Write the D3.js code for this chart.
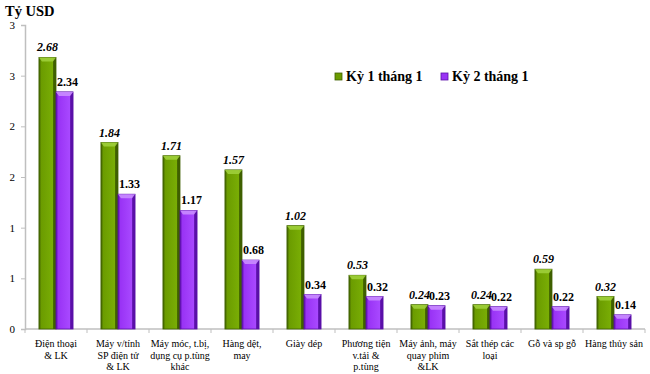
<!DOCTYPE html>
<html>
<head>
<meta charset="utf-8">
<script src="https://cdn.jsdelivr.net/npm/d3@7"></script>
<style>
body { margin: 0; background: #fff; }
svg text { font-family: "Liberation Serif", "Times New Roman", "DejaVu Serif", serif; }
</style>
</head>
<body>
<div id="chart"></div>
<script>
var categories = [
    ["Điện thoại", "& LK"],
    ["Máy v/tính", "SP điện tử", "& LK"],
    ["Máy móc, t.bị,", "dụng cụ p.tùng", "khác"],
    ["Hàng dệt,", "may"],
    ["Giày dép"],
    ["Phương tiện", "v.tải &", "p.tùng"],
    ["Máy ảnh, máy", "quay phim", "&LK"],
    ["Sắt thép các", "loại"],
    ["Gỗ và sp gỗ"],
    ["Hàng thủy sản"]
];
var ky1 = [2.68, 1.84, 1.71, 1.57, 1.02, 0.53, 0.24, 0.24, 0.59, 0.32];
var ky2 = [2.34, 1.33, 1.17, 0.68, 0.34, 0.32, 0.23, 0.22, 0.22, 0.14];
var seriesNames = ["Kỳ 1 tháng 1", "Kỳ 2 tháng 1"];
var yTickValues = [0, 0.5, 1, 1.5, 2, 2.5, 3];
var yTickLabels = ["0", "1", "1", "2", "2", "3", "3"];

var width = 650, height = 374;
var plotLeft = 25, plotRight = 645, plotTop = 25, plotBottom = 329;

var svg = d3.select("#chart").append("svg")
    .attr("width", width)
    .attr("height", height);

var defs = svg.append("defs");
var colors = [
    {id: "g1", dark: "#3f5f00", mid: "#6b9c00", light: "#79ad05"},
    {id: "g2", dark: "#5a10a8", mid: "#9933f5", light: "#a848ff"}
];
colors.forEach(function (c) {
    var g = defs.append("linearGradient").attr("id", c.id)
        .attr("x1", "0%").attr("x2", "100%").attr("y1", "0%").attr("y2", "0%");
    g.append("stop").attr("offset", "0%").attr("stop-color", c.dark);
    g.append("stop").attr("offset", "14%").attr("stop-color", c.mid);
    g.append("stop").attr("offset", "80%").attr("stop-color", c.light);
    g.append("stop").attr("offset", "86%").attr("stop-color", c.dark);
    g.append("stop").attr("offset", "100%").attr("stop-color", c.dark);
});

var x0 = d3.scaleBand()
    .domain(d3.range(categories.length))
    .range([plotLeft, plotRight])
    .paddingInner(0)
    .paddingOuter(0);

var x1 = d3.scaleBand()
    .domain([0, 1])
    .range([x0.bandwidth() * 0.225, x0.bandwidth() * 0.775]);

var y = d3.scaleLinear()
    .domain([0, 3])
    .range([plotBottom, plotTop]);

// y axis
var yAxis = svg.append("g")
    .attr("transform", "translate(" + plotLeft + ",0)")
    .call(d3.axisLeft(y).tickValues(yTickValues)
        .tickFormat(function (d, i) { return yTickLabels[i]; })
        .tickSize(4).tickPadding(6));
yAxis.select(".domain").attr("stroke", "#bfbfbf").attr("stroke-width", 1.5);
yAxis.selectAll(".tick line").attr("stroke", "#bfbfbf");
yAxis.selectAll("text").style("font-size", "11px").attr("fill", "#000");

// x axis
var xAxis = svg.append("g")
    .attr("transform", "translate(0," + plotBottom + ")");
xAxis.append("line")
    .attr("x1", plotLeft).attr("x2", plotRight)
    .attr("stroke", "#bfbfbf").attr("stroke-width", 1.5);
xAxis.selectAll(".xt")
    .data(d3.range(categories.length + 1))
    .enter().append("line")
    .attr("class", "xt")
    .attr("x1", function (d) { return plotLeft + d * x0.bandwidth(); })
    .attr("x2", function (d) { return plotLeft + d * x0.bandwidth(); })
    .attr("y1", 0).attr("y2", 4)
    .attr("stroke", "#bfbfbf");

var labels = xAxis.selectAll(".xl")
    .data(categories)
    .enter().append("text")
    .attr("class", "xl")
    .attr("text-anchor", "middle")
    .style("font-size", "10px")
    .attr("transform", function (d, i) {
        return "translate(" + (x0(i) + x0.bandwidth() / 2) + ",18)";
    });
labels.selectAll("tspan")
    .data(function (d) { return d; })
    .enter().append("tspan")
    .attr("x", 0)
    .attr("dy", function (d, i) { return i === 0 ? 0 : 11.5; })
    .text(function (d) { return d; });

// bars
var series = [ky1, ky2];
var groups = svg.selectAll(".grp")
    .data(categories)
    .enter().append("g")
    .attr("class", "grp")
    .attr("transform", function (d, i) { return "translate(" + x0(i) + ",0)"; });

series.forEach(function (vals, s) {
    var c = colors[s];
    groups.append("rect")
        .attr("x", x1(s))
        .attr("y", function (d, i) { return y(vals[i]); })
        .attr("width", x1.bandwidth())
        .attr("height", function (d, i) { return plotBottom - y(vals[i]); })
        .attr("fill", "url(#" + c.id + ")")
        .attr("stroke", c.dark)
        .attr("stroke-width", 0.8);
    // top bevel
    groups.append("path")
        .attr("d", function (d, i) {
            var xa = x1(s), w = x1.bandwidth(), ya = y(vals[i]);
            return "M" + xa + "," + ya + "L" + (xa + w) + "," + ya +
                "L" + (xa + w - 3) + "," + (ya + 4) + "L" + (xa + 3) + "," + (ya + 4) + "Z";
        })
        .attr("fill", s === 0 ? "#9fcf3a" : "#c98cff")
        .attr("opacity", 0.9);
    groups.append("text")
        .attr("x", x1(s) + x1.bandwidth() / 2 + (s === 1 ? 3 : 0))
        .attr("y", function (d, i) { return y(vals[i]) - 6; })
        .attr("text-anchor", "middle")
        .style("font-size", "12px")
        .style("font-weight", "bold")
        .style("font-style", s === 0 ? "italic" : "normal")
        .text(function (d, i) { return vals[i].toFixed(2); });
});

// title
svg.append("text")
    .attr("x", 5).attr("y", 16)
    .style("font-size", "14.5px")
    .style("font-weight", "bold")
    .text("Tỷ USD");

// legend
var legend = svg.selectAll(".leg")
    .data(seriesNames)
    .enter().append("g")
    .attr("class", "leg")
    .attr("transform", function (d, i) { return "translate(" + (335 + i * 106) + ",73)"; });
legend.append("rect")
    .attr("width", 7).attr("height", 7)
    .attr("fill", function (d, i) { return colors[i].mid; })
    .attr("stroke", function (d, i) { return colors[i].dark; })
    .attr("stroke-width", 0.8);
legend.append("text")
    .attr("x", 11).attr("y", 8)
    .style("font-size", "14px")
    .style("font-weight", "bold")
    .text(function (d) { return d; });
</script>
</body>
</html>
